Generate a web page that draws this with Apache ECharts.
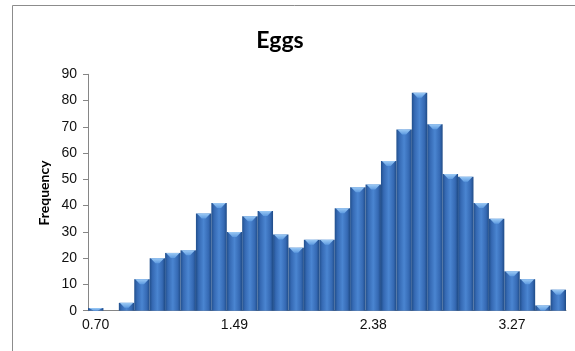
<!DOCTYPE html>
<html>
<head>
<meta charset="utf-8">
<script src="https://cdn.jsdelivr.net/npm/echarts@6/dist/echarts.min.js"></script>
<style>
html,body{margin:0;padding:0;background:#fff;}
#chart{width:575px;height:351px;}
</style>
</head>
<body>
<div id="chart"></div>
<script>
var binLabels = ['0.70','0.79','0.88','0.97','1.05','1.14','1.23','1.32','1.40','1.49',
  '1.59','1.69','1.79','1.89','1.99','2.08','2.18','2.28','2.38','2.48',
  '2.58','2.68','2.78','2.87','2.97','3.07','3.17','3.27','3.37','3.47','3.57'];
var frequency = [1,0,3,12,20,22,23,37,41,30,36,38,29,24,27,27,39,47,48,57,69,83,71,52,51,41,35,15,12,2,8];
var titleText = 'Eggs';
var yAxisName = 'Frequency';

var chart = echarts.init(document.getElementById('chart'), null, {renderer:'canvas'});

function renderBar(params, api) {
  var idx = api.value(0);
  var v = api.value(1);
  var top = api.coord([idx, v]);
  var base = api.coord([idx, 0]);
  var w = api.size([1, 0])[0];
  var x0 = top[0] - w / 2, x1 = top[0] + w / 2;
  var h = base[1] - top[1];
  var children = [{
    type: 'rect',
    shape: {x: x0, y: top[1], width: w, height: h},
    style: {
      fill: new echarts.graphic.LinearGradient(0, 0, 1, 0, [
        {offset: 0, color: '#214f8c'},
        {offset: 0.18, color: '#3569b3'},
        {offset: 0.5, color: '#4a85d1'},
        {offset: 0.82, color: '#3569b3'},
        {offset: 1, color: '#1f4b86'}
      ])
    }
  }];
  var capH = Math.min(5, h);
  if (capH > 0) {
    children.push({
      type: 'polygon',
      shape: {points: [[x0 + 1, top[1]], [x1 - 1, top[1]], [top[0] + 2, top[1] + capH], [top[0] - 2, top[1] + capH]]},
      style: {
        fill: new echarts.graphic.LinearGradient(0, 0, 0, 1, [
          {offset: 0, color: '#9ccaf5'},
          {offset: 1, color: '#5d9ae0'}
        ])
      }
    });
  }
  return {type: 'group', children: children};
}

var option = {
  animation: false,
  graphic: [{
    type: 'rect',
    shape: {x: 12.5, y: 5.5, width: 600, height: 400},
    style: {fill: 'none', stroke: '#8c8c8c', lineWidth: 1},
    silent: true
  }, {
    type: 'text',
    x: 44, y: 193, rotation: Math.PI / 2,
    style: {text: yAxisName, font: 'bold 14px Lato', fill: '#000', align: 'center', verticalAlign: 'middle'}
  }],
  title: {
    text: titleText,
    left: 275, top: 24,
    textAlign: 'center',
    textStyle: {fontFamily: 'Lato', fontWeight: 'bold', fontSize: 23, color: '#000'}
  },
  grid: {left: 88, right: 9, top: 74.3, bottom: 40.3, containLabel: false},
  xAxis: {
    type: 'category',
    data: binLabels,
    boundaryGap: true,
    axisLine: {lineStyle: {color: '#868686', width: 1}},
    axisTick: {show: false},
    axisLabel: {interval: 8, fontFamily: 'Liberation Sans', fontSize: 14, color: '#111', margin: 7}
  },
  yAxis: {
    type: 'value',
    min: 0, max: 90, interval: 10,
    axisLine: {show: true, lineStyle: {color: '#868686', width: 1}},
    axisTick: {show: true, length: 5, lineStyle: {color: '#868686'}},
    splitLine: {show: false},
    axisLabel: {fontFamily: 'Liberation Sans', fontSize: 14, color: '#111', margin: 11}
  },
  series: [{
    type: 'custom',
    renderItem: renderBar,
    encode: {x: 0, y: 1},
    data: frequency.map(function (v, i) { return [i, v]; })
  }]
};
chart.setOption(option);
</script>
</body>
</html>
